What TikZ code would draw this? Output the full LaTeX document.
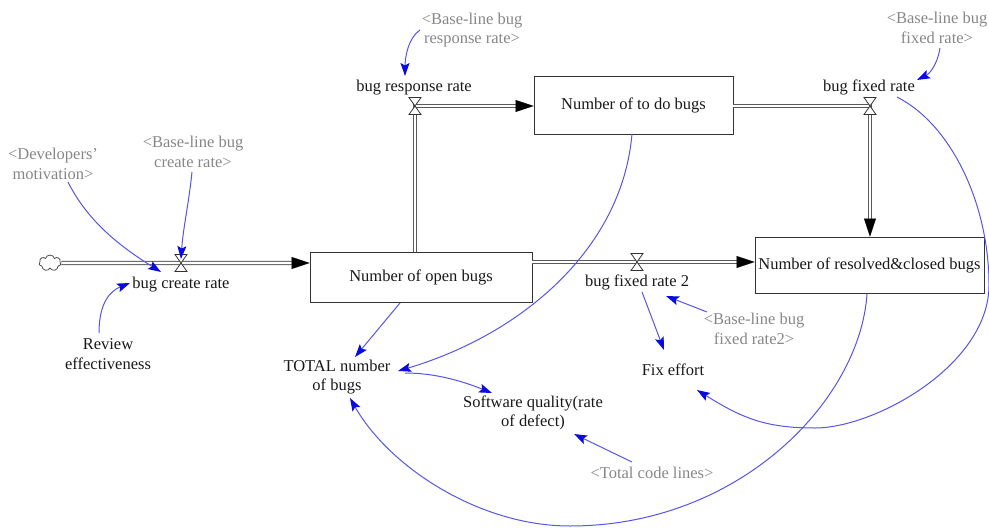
\documentclass[tikz,border=0pt]{standalone}
\usepackage{fontspec}
\setmainfont{Liberation Serif}
\usetikzlibrary{arrows.meta,shapes.symbols}

\definecolor{linkblue}{RGB}{85,85,230}
\definecolor{tipblue}{RGB}{10,10,225}
\definecolor{shadowgray}{RGB}{135,135,135}
\definecolor{inkgray}{RGB}{25,25,25}

\tikzset{
  var/.style={align=center, inner sep=1pt, text=inkgray},
  shadowvar/.style={var, text=shadowgray},
  stock/.style={draw=black!80, line width=0.9pt, fill=white, text=inkgray, inner sep=2pt},
  pipe/.style={draw=black!65, line width=1pt, double=white, double distance=2.2pt},
  pipehead/.style={draw=black, line width=0.1pt, -{Triangle[length=18pt,width=12pt]}},
  link/.style={draw=linkblue, line width=1pt, -{Stealth[length=13pt,width=9pt,inset=2.5pt,color=tipblue]}},
  valve/.pic={\draw[fill=white, draw=black!80, line width=0.8pt]
    (-6,-8.5) -- (6,-8.5) -- (-6,8.5) -- (6,8.5) -- cycle;}
}

\begin{document}
\begin{tikzpicture}[x=1pt, y=-1pt, font=\fontsize{16.5}{19.5}\selectfont]
\useasboundingbox (0,0) rectangle (989,528);

% stocks
\node[stock, minimum width=222pt, minimum height=50pt] (open) at (421,277) {Number of open bugs};
\node[stock, minimum width=199pt, minimum height=58pt] (todo) at (633.5,105) {Number of to do bugs};
\node[stock, minimum width=229pt, minimum height=56pt] (resolved) at (869.5,265) {Number of resolved\&closed bugs};

% source cloud
\node[cloud, cloud puffs=7, draw=black!70, line width=0.8pt, fill=white,
      minimum width=22pt, minimum height=16pt, inner sep=0pt] (cloud) at (50,263) {};

% valve positions
\coordinate (vCreate) at (181,263);
\coordinate (vResp) at (415,106);
\coordinate (vFix) at (870,106);
\coordinate (vFix2) at (637,262);

% flow pipes
\draw[pipe] (cloud.east) -- ([xshift=-17pt]vCreate -| open.west);
\draw[pipehead] ([xshift=-18pt]vCreate -| open.west) -- (vCreate -| open.west);

\draw[pipe] (vResp |- open.north) -- (vResp) -- ([xshift=-17pt]vResp -| todo.west);
\draw[pipehead] ([xshift=-18pt]vResp -| todo.west) -- (vResp -| todo.west);

\draw[pipe] (vFix -| todo.east) -- (vFix) -- ([yshift=17pt]vFix |- resolved.north);
\draw[pipehead] ([yshift=18pt]vFix |- resolved.north) -- (vFix |- resolved.north);

\draw[pipe] (vFix2 -| open.east) -- ([xshift=-17pt]vFix2 -| resolved.west);
\draw[pipehead] ([xshift=-18pt]vFix2 -| resolved.west) -- (vFix2 -| resolved.west);

% valves
\pic at (vCreate) {valve};
\pic at (vResp) {valve};
\pic at (vFix) {valve};
\pic at (vFix2) {valve};

% rate labels
\node[var] (createrate) at (181,285) {bug create rate};
\node[var] (resplabel) at (414,88) {bug response rate};
\node[var] (fixlabel) at (869,87) {bug fixed rate};
\node[var] (fix2label) at (637,282) {bug fixed rate 2};

% auxiliaries
\node[var] (review) at (108,354) {Review\\effectiveness};
\node[var] (total) at (337,377) {TOTAL number\\of bugs};
\node[var] (software) at (533,413) {Software quality(rate\\of defect)};
\node[var] (fixeffort) at (673,370) {Fix effort};

% shadow variables
\node[shadowvar] (dev) at (53,164) {<Developers'\\motivation>};
\node[shadowvar] (bcreate) at (193,152) {<Base-line bug\\create rate>};
\node[shadowvar] (bresp) at (472,30) {<Base-line bug\\response rate>};
\node[shadowvar] (bfix) at (937,28) {<Base-line bug\\fixed rate>};
\node[shadowvar] (bfix2) at (754,329) {<Base-line bug\\fixed rate2>};
\node[shadowvar] (totalcode) at (652,473) {<Total code lines>};

% waypoints of the long links
\coordinate (fxA) at (989,285);
\coordinate (fxB) at (815,428);
\coordinate (rsA) at (570,526);

% causal links
\draw[link] ([shift={(15,18)}]dev.center) .. controls +(20,40) and +(-40,-25) .. ([shift={(-20,-13)}]createrate.center);
\draw[link] ([shift={(-1,20)}]bcreate.center) .. controls +(-3,30) and +(2,-30) .. ([shift={(0,-4)}]vCreate);
\draw[link] ([shift={(-9,-21)}]review.center) .. controls +(0,-30) and +(-20,8) .. ([shift={(-51,-2)}]createrate.center);
\draw[link] ([shift={(-52,0)}]bresp.center) .. controls +(-12,8) and +(0,-18) .. ([shift={(-9,-12)}]resplabel.center);
\draw[link] ([shift={(3,20)}]bfix.center) .. controls +(-3,18) and +(12,-6) .. ([shift={(48,-7)}]fixlabel.center);
\draw[link] ([shift={(28,10)}]fixlabel.center) .. controls +(55,28) and +(0,-80) .. (fxA)
  .. controls +(0,80) and +(60,0) .. (fxB)
  .. controls +(-50,0) and +(45,28) .. ([shift={(24,20)}]fixeffort.center);
\draw[link] ([shift={(-1.5,29)}]todo.center) .. controls +(-10,116) and +(122,-36) .. ([shift={(61,-6)}]total.center);
\draw[link] ([shift={(-21,26)}]open.center) -- ([shift={(18,-20)}]total.center);
\draw[link] ([shift={(-2.5,29)}]resolved.center) .. controls +(-7,106) and +(170,0) .. (rsA)
  .. controls +(-90,0) and +(40,70) .. ([shift={(13,21)}]total.center);
\draw[link] ([shift={(68,-4)}]total.center) .. controls +(30,0) and +(-30,-12) .. ([shift={(-41,-20)}]software.center);
\draw[link] ([shift={(-20,-11)}]totalcode.center) -- ([shift={(41,21)}]software.center);
\draw[link] ([shift={(-47,-17)}]bfix2.center) -- ([shift={(29,14)}]fix2label.center);
\draw[link] ([shift={(5,10)}]fix2label.center) -- ([shift={(-9,-20)}]fixeffort.center);
\end{tikzpicture}
\end{document}
